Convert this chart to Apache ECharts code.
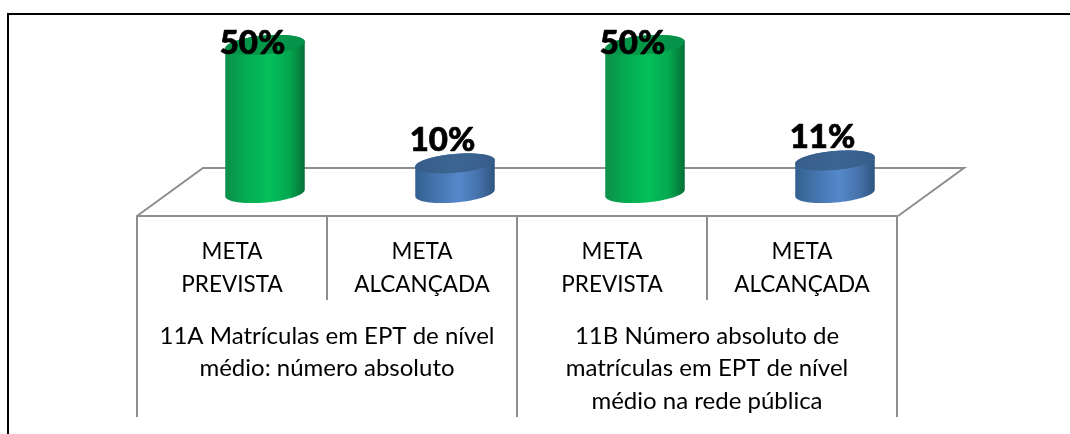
<!DOCTYPE html>
<html><head><meta charset="utf-8">
<style>html,body{margin:0;padding:0;background:#fff}#c{width:1070px;height:434px}</style>
<script src="https://cdn.jsdelivr.net/npm/echarts@6/dist/echarts.min.js"></script>
</head><body><div id="c"></div>
<script>
const metas = ['META\nPREVISTA','META\nALCANÇADA','META\nPREVISTA','META\nALCANÇADA'];
const groups = ['11A Matrículas em EPT de nível\nmédio: número absoluto','11B Número absoluto de\nmatrículas em EPT de nível\nmédio na rede pública'];
const values = [50,10,50,11];
const labels = ['50%','10%','50%','11%'];
const palette = [
  {l:'#0b8f4a',ml:'#04ad52',mid:'#04bf5a',mr:'#04a84f',r:'#056f38',cap:'#049a49',capEdge:'#05904a'},
  {l:'#32608f',ml:'#4676b0',mid:'#5588cb',mr:'#4672aa',r:'#2f5580',cap:'#3d6592',capEdge:'#375e8a'}
];
const FONT='Lato';
const GREY='#8e8e8e';
const chart=echarts.init(document.getElementById('c'),null,{renderer:'canvas'});
const TILT=-5*Math.PI/180, RY=9.5;
function ellipsePt(cx,cy,rx,t){
  const x=rx*Math.cos(t), y=RY*Math.sin(t);
  return [cx+x*Math.cos(TILT)-y*Math.sin(TILT), cy+x*Math.sin(TILT)+y*Math.cos(TILT)];
}
function renderCyl(params,api){
  const i=api.value(0), v=api.value(1);
  const base=api.coord([i,0]), top=api.coord([i,v]);
  const rx=api.size([1,0])[0]*0.21;
  const c=palette[i%2];
  const body=[];
  for(let k=0;k<=40;k++){body.push(ellipsePt(top[0],top[1],rx,-Math.PI+k*Math.PI/40));}
  for(let k=0;k<=40;k++){body.push(ellipsePt(base[0],base[1],rx,k*Math.PI/40));}
  const cap=[];
  for(let k=0;k<72;k++){cap.push(ellipsePt(top[0],top[1],rx,k*2*Math.PI/72));}
  const bodyFill=new echarts.graphic.LinearGradient(0,0,1,0,[
    {offset:0,color:c.l},{offset:0.28,color:c.ml},{offset:0.55,color:c.mid},{offset:0.8,color:c.mr},{offset:1,color:c.r}]);
  const capFill=new echarts.graphic.LinearGradient(0,0,1,0,[
    {offset:0,color:c.capEdge},{offset:0.5,color:c.cap},{offset:1,color:c.capEdge}]);
  return {type:'group',children:[
    {type:'polygon',shape:{points:body},style:{fill:bodyFill}},
    {type:'polygon',shape:{points:cap},style:{fill:capFill}},
    {type:'text',style:{text:labels[i],x:top[0]-12.5,y:Math.max(43,top[1]-23),align:'center',verticalAlign:'middle',
      font:'900 33px '+FONT,fill:'#000',stroke:'#000',lineWidth:0.7},z2:10}
  ]};
}
const lineStyle={color:GREY,width:2};
chart.setOption({
  animation:false,
  backgroundColor:'#fff',
  grid:[
    {left:170,width:760,top:45,height:148},
    {left:137,width:760,top:215,height:1},
    {left:137,width:760,top:215,height:1}
  ],
  xAxis:[
    {gridIndex:0,type:'category',data:metas,show:false},
    {gridIndex:1,type:'category',data:metas,axisLine:{show:false},
      axisTick:{show:true,length:84,lineStyle:lineStyle},
      axisLabel:{interval:0,margin:19.5,color:'#000',fontFamily:FONT,fontSize:22.5,lineHeight:33,verticalAlign:'top'}},
    {gridIndex:2,type:'category',data:groups,axisLine:{show:true,lineStyle:lineStyle},
      axisTick:{show:true,length:201,lineStyle:lineStyle},
      axisLabel:{interval:0,margin:104,color:'#000',fontFamily:FONT,fontSize:24,lineHeight:32.5,verticalAlign:'top'}}
  ],
  yAxis:[
    {gridIndex:0,type:'value',min:0,max:50,show:false},
    {gridIndex:1,type:'value',show:false},
    {gridIndex:2,type:'value',show:false}
  ],
  graphic:[
    {type:'polyline',shape:{points:[[8,434],[8,14],[1070,14]]},style:{fill:'none',stroke:'#000',lineWidth:2},z:-2},
    {type:'polyline',shape:{points:[[137,216],[203,168],[964,168],[898,216]]},style:{fill:'none',stroke:GREY,lineWidth:2},z:-1}
  ],
  series:[{type:'custom',xAxisIndex:0,yAxisIndex:0,renderItem:renderCyl,clip:false,
    encode:{x:0,y:1},data:values.map((v,i)=>[i,v])}]
});
</script></body></html>
